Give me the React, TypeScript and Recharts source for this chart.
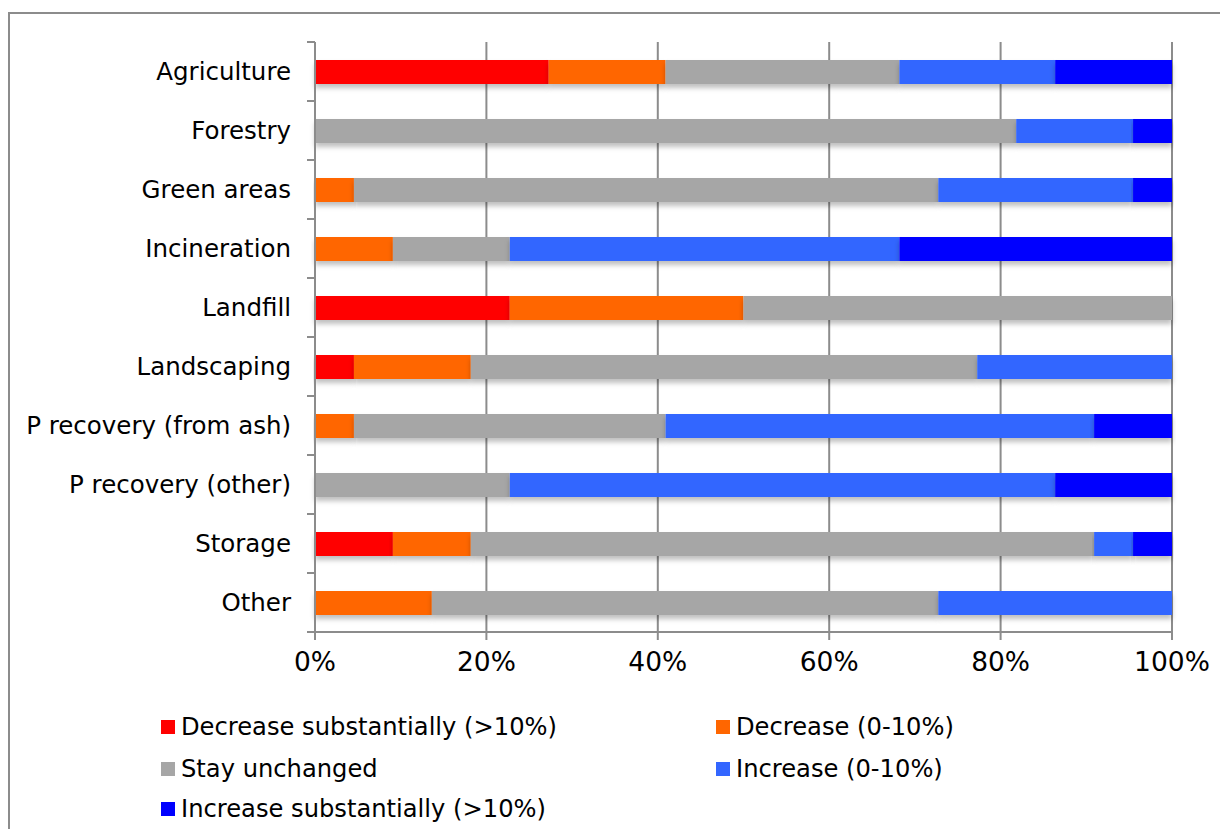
import React from 'react';
import {
  BarChart,
  Bar,
  XAxis,
  YAxis,
  CartesianGrid,
  Legend,
} from 'recharts';

// counts per answer (22 respondents)
const categories = [
  'Agriculture',
  'Forestry',
  'Green areas',
  'Incineration',
  'Landfill',
  'Landscaping',
  'P recovery (from ash)',
  'P recovery (other)',
  'Storage',
  'Other',
];
const decreaseSubst = [6, 0, 0, 0, 5, 1, 0, 0, 2, 0];
const decrease = [3, 0, 1, 2, 6, 3, 1, 0, 2, 3];
const unchanged = [6, 18, 15, 3, 11, 13, 8, 5, 16, 13];
const increase = [4, 3, 5, 10, 0, 5, 11, 14, 1, 6];
const increaseSubst = [3, 1, 1, 7, 0, 0, 2, 3, 1, 0];
const xTicks = [0, 0.2, 0.4, 0.6, 0.8, 1];

const series = [
  { key: 'ds', name: 'Decrease substantially (>10%)', color: '#ff0000', values: decreaseSubst },
  { key: 'd', name: 'Decrease (0-10%)', color: '#ff6600', values: decrease },
  { key: 'u', name: 'Stay unchanged', color: '#a6a6a6', values: unchanged },
  { key: 'i', name: 'Increase (0-10%)', color: '#3366ff', values: increase },
  { key: 'is', name: 'Increase substantially (>10%)', color: '#0000ff', values: increaseSubst },
];

const data = categories.map((name, i) => {
  const row: any = { name };
  series.forEach((s) => (row[s.key] = s.values[i]));
  return row;
});

const W = 1228;
const H = 837;
const M = { top: 42, right: 56, left: 0, bottom: 145 };
const X_AXIS_H = 60;
const FONT = '"DejaVu Sans", Verdana, sans-serif';
const AXIS = '#8c8c8c';
const HALF_BAND = (H - M.top - M.bottom - X_AXIS_H) / categories.length / 2;

const YTick = (props: any) => {
  const { x, y, payload, index } = props;
  const ax = x + 24;
  return (
    <g>
      <line x1={ax - 8} x2={ax} y1={y - HALF_BAND} y2={y - HALF_BAND} stroke={AXIS} strokeWidth={2} />
      {index === categories.length - 1 && (
        <line x1={ax - 8} x2={ax} y1={y + HALF_BAND} y2={y + HALF_BAND} stroke={AXIS} strokeWidth={2} />
      )}
      <text x={x} y={y} dy="0.35em" textAnchor="end" fill="#000" fontSize={24.5} fontFamily={FONT}>
        {payload.value}
      </text>
    </g>
  );
};

const legendPos = [
  { left: 161, top: 27 },
  { left: 716, top: 27 },
  { left: 161, top: 69 },
  { left: 716, top: 69 },
  { left: 161, top: 109 },
];

const LegendBox = () => (
  <div style={{ position: 'relative', width: W, height: 130, fontFamily: FONT, fontSize: 24.2, color: '#000' }}>
    {series.map((s, i) => (
      <div
        key={s.key}
        style={{
          position: 'absolute',
          left: legendPos[i].left,
          top: legendPos[i].top - 15,
          height: 30,
          display: 'flex',
          alignItems: 'center',
          whiteSpace: 'nowrap',
        }}
      >
        <span style={{ display: 'inline-block', width: 14, height: 14, background: s.color, marginRight: 6 }} />
        <span>{s.name}</span>
      </div>
    ))}
  </div>
);

const ShadowBar = (props: any) => {
  const { x, y, width, height, fill } = props;
  if (!width || width <= 0) return null;
  return <rect x={x} y={y} width={width} height={height} fill={fill} filter="url(#barShadow)" />;
};

export default function App() {
  return (
    <div style={{ position: 'relative', width: W, height: H, margin: -8, overflow: 'hidden', background: '#fff' }}>
      <div
        style={{
          position: 'absolute',
          left: 8,
          top: 12,
          width: 1300,
          height: 900,
          border: `2px solid ${AXIS}`,
          boxSizing: 'border-box',
        }}
      />
      <BarChart
        width={W}
        height={H}
        data={data}
        layout="vertical"
        stackOffset="expand"
        margin={M}
        style={{ position: 'absolute', left: 0, top: 0 }}
      >
        <defs>
          <filter id="barShadow" x="-5%" y="-30%" width="110%" height="190%">
            <feDropShadow dx="0" dy="4" stdDeviation="2.5" floodColor="#000" floodOpacity="0.25" />
          </filter>
        </defs>
        <CartesianGrid horizontal={false} stroke={AXIS} strokeWidth={2} />
        <XAxis
          type="number"
          domain={[0, 1]}
          ticks={xTicks}
          tickFormatter={(v: number) => `${Math.round(v * 100)}%`}
          height={X_AXIS_H}
          axisLine={{ stroke: AXIS, strokeWidth: 2 }}
          tickLine={{ stroke: AXIS, strokeWidth: 2 }}
          tickSize={8}
          tickMargin={12}
          tick={{ fill: '#000', fontSize: 26.5, fontFamily: FONT }}
          interval={0}
        />
        <YAxis
          type="category"
          dataKey="name"
          width={315}
          axisLine={{ stroke: AXIS, strokeWidth: 2 }}
          tickLine={false}
          tickSize={8}
          tickMargin={16}
          tick={<YTick />}
          interval={0}
        />
        <Legend
          layout="horizontal"
          verticalAlign="middle"
          align="center"
          wrapperStyle={{ top: 700, left: 0, width: W, height: 130 }}
          content={() => <LegendBox />}
        />
        {series.map((s) => (
          <Bar
            key={s.key}
            dataKey={s.key}
            name={s.name}
            stackId="a"
            fill={s.color}
            barSize={24}
            shape={<ShadowBar />}
            isAnimationActive={false}
          />
        ))}
      </BarChart>
    </div>
  );
}
